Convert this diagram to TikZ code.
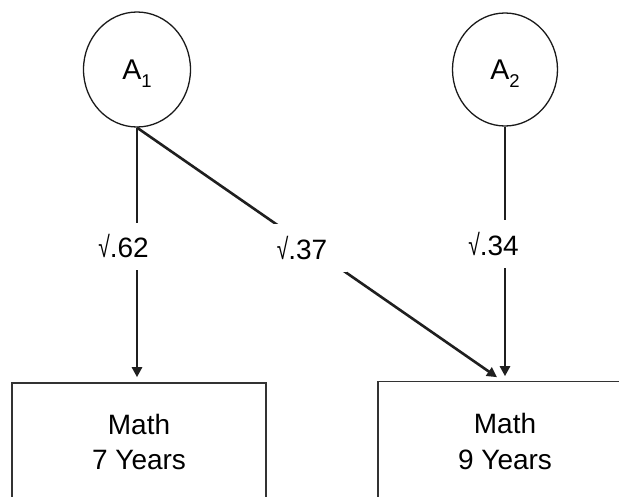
\documentclass[tikz,border=0pt]{standalone}
\usepackage{fontspec}
\setmainfont{Liberation Sans}
\usetikzlibrary{shapes.geometric,arrows.meta}
\newcommand{\sqrtsym}{\scalebox{0.75}[1.05]{√}}
\begin{document}
\begin{tikzpicture}[x=1pt,y=-1pt,
  latent/.style={ellipse,draw=black!90,line width=1.3pt,minimum width=107pt,minimum height=115pt,inner sep=0pt,font=\fontsize{28.5}{30}\selectfont,text depth=0pt},
  obs/.style={rectangle,draw=black!80,line width=1.6pt,minimum width=254pt,inner sep=0pt,align=center,font=\fontsize{28}{35.7}\selectfont},
  causal/.style={draw=black!88,line width=2.6pt,-{Triangle[length=10pt,width=10pt]}},
  coef/.style={fill=white,inner xsep=20pt,inner ysep=12pt,font=\fontsize{28}{30}\selectfont}]
\useasboundingbox (0,0) rectangle (619,496);
\clip (0,0) rectangle (619,496);
\node[latent] (A1) at (137,69.5) {A\raisebox{-8pt}{\fontsize{18.5}{18}\selectfont 1}};
\node[latent,minimum width=105pt,minimum height=113pt] (A2) at (505,69.5) {A\raisebox{-8pt}{\fontsize{18.5}{18}\selectfont 2}};
\node[obs,minimum height=118pt] (M7) at (139,442) {Math\\7 Years};
\node[obs,minimum height=120pt] (M9) at (505,441.5) {Math\\9 Years};
\draw[causal] (A1.south) -- ([shift={(-2,-5)}]M7.north);
\draw[causal] (A2.south) -- ([shift={(0,-4.5)}]M9.north);
\draw[causal] (A1.south) -- ([shift={(-8,-3.5)}]M9.north);
\node[coef] (c1) at (123.5,246.5) {\sqrtsym.62};
\node[coef] (c2) at (302,248) {\sqrtsym.37};
\node[coef] (c3) at (493.5,244) {\sqrtsym.34};
\end{tikzpicture}
\end{document}
